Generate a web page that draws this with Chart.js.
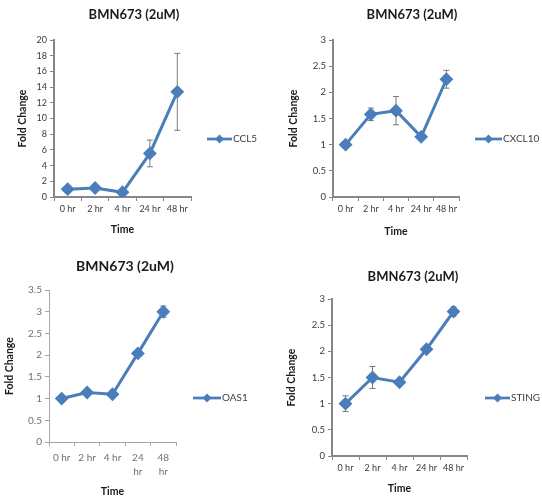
<!DOCTYPE html>
<html><head><meta charset="utf-8">
<script src="https://cdn.jsdelivr.net/npm/chart.js@4/dist/chart.umd.min.js"></script>
<style>
html,body{margin:0;padding:0;background:#fff;overflow:hidden;width:542px;height:498px;}
.p{position:absolute;width:271px;height:249px;}
</style></head><body>
<div class="p" style="left:0;top:0"><canvas id="c1"></canvas></div>
<div class="p" style="left:271px;top:0"><canvas id="c2"></canvas></div>
<div class="p" style="left:0;top:249px"><canvas id="c3"></canvas></div>
<div class="p" style="left:271px;top:249px"><canvas id="c4"></canvas></div>
<script>
// ---- data ----
const chartTitle = 'BMN673 (2uM)';
const xAxisTitle = 'Time';
const yAxisTitle = 'Fold Change';
const timeLabels = ['0 hr', '2 hr', '4 hr', '24 hr', '48 hr'];
const timeLabelsWrapped = ['0 hr', '2 hr', '4 hr', ['24', 'hr'], ['48', 'hr']];

const ccl5Values = [1.0, 1.15, 0.6, 5.55, 13.4];
const ccl5Errors = [0.1, 0.15, 0.1, 1.7, 4.9];

const cxcl10Values = [1.0, 1.58, 1.65, 1.15, 2.25];
const cxcl10Errors = [0.03, 0.12, 0.27, 0.03, 0.17];

const oas1Values = [1.0, 1.14, 1.1, 2.04, 3.0];
const oas1Errors = [0.03, 0.04, 0.03, 0.03, 0.13];

const stingValues = [1.0, 1.5, 1.41, 2.04, 2.76];
const stingErrors = [0.15, 0.21, 0.04, 0.03, 0.09];

// ---- styling / layout ----
const FONT = 'Lato, "Liberation Sans", sans-serif';
const LINE = '#4A7EBB';

const panels = [
  {id:'c1', label:'CCL5', labels:timeLabels, values:ccl5Values, errors:ccl5Errors, max:20, step:2,
   W:271, H:249, tcx:134, tcy:15, tsize:13, area:{l:54, r:191, t:40, b:197}, yTitleX:23, xTitleY:230,
   leg:{x1:207, x2:232, y:139}, tickColor:'#3a3a3a', axisColor:'#868686', axisW:2,
   xt:{size:9, lh:1.2, pad:3}, yt:9},
  {id:'c2', label:'CXCL10', labels:timeLabels, values:cxcl10Values, errors:cxcl10Errors, max:3, step:0.5,
   W:271, H:249, tcx:141, tcy:15, tsize:13, area:{l:62, r:188, t:40, b:197}, yTitleX:23, xTitleY:232,
   leg:{x1:204, x2:231, y:139}, tickColor:'#3a3a3a', axisColor:'#868686', axisW:2,
   xt:{size:9, lh:1.2, pad:3}, yt:9.5},
  {id:'c3', label:'OAS1', labels:timeLabelsWrapped, values:oas1Values, errors:oas1Errors, max:3.5, step:0.5,
   W:271, H:249, tcx:125, tcy:17, tsize:14, area:{l:49, r:176, t:41, b:193}, yTitleX:10, xTitleY:244,
   leg:{x1:193, x2:221, y:149}, tickColor:'#707070', axisColor:'#a6a6a6', axisW:1,
   xt:{size:10, lh:1.4, pad:5}, yt:10},
  {id:'c4', label:'STING', labels:timeLabels, values:stingValues, errors:stingErrors, max:3, step:0.5,
   W:271, H:249, tcx:142, tcy:28, tsize:13, area:{l:61, r:196, t:50, b:207}, yTitleX:21, xTitleY:240,
   leg:{x1:214, x2:239, y:149}, tickColor:'#3a3a3a', axisColor:'#868686', axisW:2,
   xt:{size:9, lh:1.2, pad:3}, yt:9.5}
];

const errorBarPlugin = {
  id: 'errorBars',
  beforeDatasetsDraw(chart) {
    const errs = chart.options.plugins.errorBars.errors;
    const ctx = chart.ctx;
    const meta = chart.getDatasetMeta(0);
    const ys = chart.scales.y;
    const vals = chart.data.datasets[0].data;
    ctx.save();
    ctx.strokeStyle = '#7a7a7a';
    ctx.lineWidth = 1;
    meta.data.forEach((pt, i) => {
      const e = errs[i];
      if (!e) return;
      const yT = ys.getPixelForValue(vals[i] + e);
      const yB = ys.getPixelForValue(vals[i] - e);
      const x = pt.x;
      ctx.beginPath();
      ctx.moveTo(x, yT); ctx.lineTo(x, yB);
      ctx.moveTo(x - 3, yT); ctx.lineTo(x + 3, yT);
      ctx.moveTo(x - 3, yB); ctx.lineTo(x + 3, yB);
      ctx.stroke();
    });
    ctx.restore();
  }
};

const sideLegendPlugin = {
  id: 'sideLegend',
  afterDraw(chart) {
    const o = chart.options.plugins.sideLegend;
    const ds = chart.data.datasets[0];
    const ctx = chart.ctx;
    ctx.save();
    ctx.strokeStyle = ds.borderColor;
    ctx.lineWidth = 2.75;
    ctx.beginPath();
    ctx.moveTo(o.x1, o.y); ctx.lineTo(o.x2, o.y); ctx.stroke();
    const mx = (o.x1 + o.x2) / 2, r = 4.5;
    ctx.fillStyle = ds.borderColor;
    ctx.beginPath();
    ctx.moveTo(mx, o.y - r); ctx.lineTo(mx + r, o.y); ctx.lineTo(mx, o.y + r); ctx.lineTo(mx - r, o.y);
    ctx.closePath(); ctx.fill();
    ctx.fillStyle = o.color;
    ctx.font = '10px ' + FONT;
    ctx.textBaseline = 'middle';
    ctx.textAlign = 'left';
    ctx.fillText(ds.label, o.x2 + 1, o.y);
    ctx.restore();
  }
};

const fmt = v => String(Math.round(v * 10) / 10);

panels.forEach(p => {
  const padL = Math.max(0, 2 * p.tcx - p.W);
  const padR = Math.max(0, p.W - 2 * p.tcx);
  const tLH = p.tsize * 1.2;
  const axTitleSize = 10.5, axHalf = axTitleSize * 1.2 / 2;
  new Chart(document.getElementById(p.id), {
    type: 'line',
    data: {
      labels: p.labels,
      datasets: [{
        label: p.label,
        data: p.values,
        borderColor: LINE,
        backgroundColor: LINE,
        borderWidth: 3,
        pointStyle: 'rectRot',
        pointRadius: 4.8,
        pointHoverRadius: 4.8,
        pointBackgroundColor: LINE,
        pointBorderColor: LINE,
        tension: 0,
        fill: false
      }]
    },
    options: {
      responsive: true,
      maintainAspectRatio: false,
      animation: false,
      events: [],
      layout: {padding: {left: padL, right: padR, top: 0, bottom: 0}},
      plugins: {
        legend: {display: false},
        tooltip: {enabled: false},
        title: {
          display: true,
          text: chartTitle,
          color: '#1a1a1a',
          font: {family: FONT, size: p.tsize, weight: 'bold', lineHeight: 1.2},
          padding: {top: p.tcy - tLH / 2, bottom: p.area.t - p.tcy - tLH / 2}
        },
        errorBars: {errors: p.errors},
        sideLegend: {x1: p.leg.x1, x2: p.leg.x2, y: p.leg.y, color: '#404040'}
      },
      scales: {
        x: {
          type: 'category',
          offset: true,
          grid: {display: true, drawOnChartArea: false, drawTicks: true, tickLength: 4, color: p.axisColor, offset: true},
          border: {display: true, color: p.axisColor, width: p.axisW},
          ticks: {color: p.tickColor, font: {family: FONT, size: p.xt.size, lineHeight: p.xt.lh}, padding: p.xt.pad, maxRotation: 0, autoSkip: false},
          title: {display: true, text: xAxisTitle, color: '#1a1a1a', font: {family: FONT, size: axTitleSize, weight: 'bold', lineHeight: 1.2},
                  padding: {top: 0, bottom: Math.max(0, p.H - p.xTitleY - axHalf)}},
          afterFit: s => { s.height = p.H - p.area.b; }
        },
        y: {
          type: 'linear',
          position: 'left',
          min: 0, max: p.max,
          grid: {display: true, drawOnChartArea: false, drawTicks: true, tickLength: 4, color: p.axisColor},
          border: {display: true, color: p.axisColor, width: p.axisW},
          ticks: {stepSize: p.step, color: p.tickColor, font: {family: FONT, size: p.yt}, padding: 3, callback: fmt},
          title: {display: true, text: yAxisTitle, color: '#1a1a1a', font: {family: FONT, size: axTitleSize, weight: 'bold', lineHeight: 1.2},
                  padding: {top: Math.max(0, p.yTitleX - padL - axHalf), bottom: 0}},
          afterFit: s => { s.width = p.area.l - padL; }
        },
        yR: {
          type: 'linear',
          position: 'right',
          display: true,
          grid: {display: false},
          border: {display: false},
          ticks: {display: false},
          afterFit: s => { s.width = (p.W - padR) - p.area.r; }
        }
      }
    },
    plugins: [errorBarPlugin, sideLegendPlugin]
  });
});
</script>
</body></html>
